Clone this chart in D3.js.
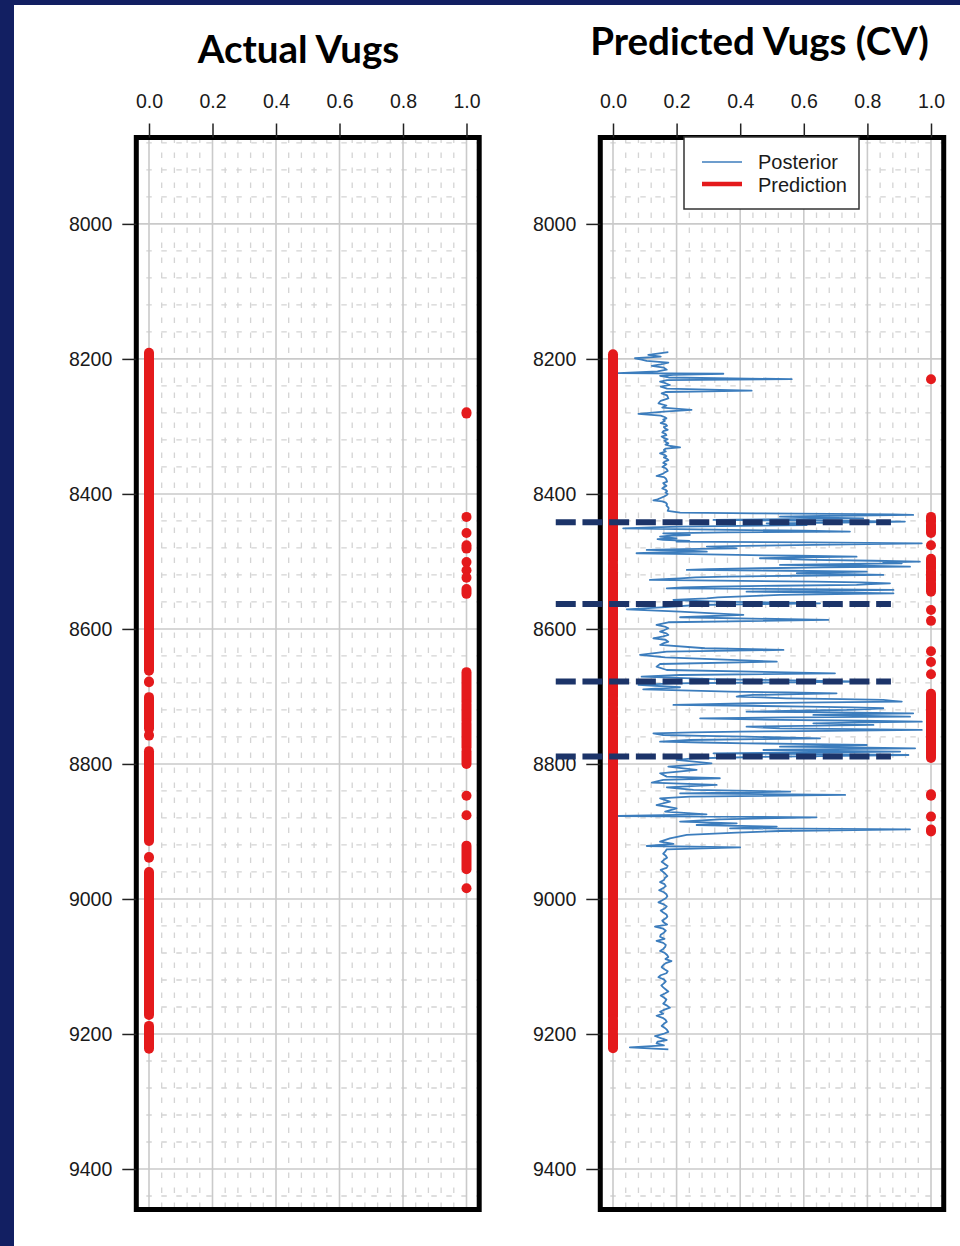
<!DOCTYPE html>
<html>
<head>
<meta charset="utf-8">
<script src="https://cdn.jsdelivr.net/npm/d3@7"></script>
<style>
  html, body { margin: 0; padding: 0; background: #fff; }
  svg { display: block; }
</style>
</head>
<body>
<svg id="chart" width="960" height="1246"></svg>
<script>
// ---- Data -------------------------------------------------------------
const xTickValues = [0, 0.2, 0.4, 0.6, 0.8, 1.0];
const depthTicks = [8000, 8200, 8400, 8600, 8800, 9000, 9200, 9400];
const depthDomain = [7872, 9460];

// Actual vug indicator: depth runs plotted at 0 and at 1
const actualZeroRuns = [[8191, 8662], [8678, 8679], [8701, 8748], [8757, 8758], [8781, 8914],
  [8938, 8939], [8960, 9172], [9188, 9222]];
const actualOneRuns = [[8279, 8281], [8434, 8434], [8458, 8458], [8476, 8481], [8501, 8501],
  [8513, 8513], [8524, 8524], [8541, 8548], [8664, 8707], [8711, 8736], [8740, 8776],
  [8781, 8800], [8847, 8847], [8876, 8876], [8921, 8956], [8984, 8984]];

// Cross-validated prediction: depth runs plotted at 0 and at 1
const predictedZeroRuns = [[8193, 8499], [8503, 8512], [8516, 8700], [8704, 8713], [8717, 8727],
  [8731, 9174], [9179, 9194], [9199, 9221]];
const predictedOneRuns = [[8230, 8230], [8434, 8441], [8445, 8458], [8476, 8476], [8496, 8510],
  [8514, 8528], [8532, 8545], [8572, 8572], [8588, 8588], [8633, 8633], [8649, 8649],
  [8667, 8667], [8696, 8791], [8845, 8847], [8878, 8878], [8897, 8900]];

// Zone boundaries marked across the prediction track
const zoneBoundaries = [8442, 8563, 8678, 8789];

// Posterior probability of vugs: [depth, probability]
const posterior = [
  [8190, 0.174], [8192, 0.140], [8194, 0.111], [8196.5, 0.150], [8199, 0.069], [8201, 0.090],
  [8203, 0.106], [8205.5, 0.174], [8208, 0.150], [8210.4, 0.122], [8213, 0.160], [8216, 0.169],
  [8218.5, 0.140], [8221, 0.017], [8222, 0.347], [8223.5, 0.190], [8225, 0.148], [8227.5, 0.175],
  [8230, 0.562], [8231.5, 0.170], [8233.6, 0.148], [8236, 0.165], [8238.6, 0.179], [8241, 0.150],
  [8244, 0.170], [8247, 0.436], [8249, 0.165], [8251, 0.153], [8254, 0.170], [8258.3, 0.174],
  [8262, 0.150], [8265.7, 0.143], [8269, 0.168], [8272, 0.155], [8275.6, 0.247], [8278, 0.160],
  [8281.5, 0.080], [8284, 0.150], [8286, 0.162], [8288, 0.168], [8290, 0.158], [8292, 0.163],
  [8295, 0.150], [8297, 0.166], [8299, 0.170], [8301, 0.160], [8303, 0.164], [8305, 0.172],
  [8307, 0.158], [8309, 0.155], [8311, 0.165], [8313, 0.168], [8315, 0.153], [8317, 0.160],
  [8319, 0.172], [8321, 0.162], [8323, 0.166], [8325, 0.174], [8327, 0.165], [8329, 0.180],
  [8331, 0.211], [8333, 0.165], [8335, 0.160], [8337, 0.166], [8340, 0.148], [8342, 0.162],
  [8344, 0.168], [8346, 0.160], [8348, 0.170], [8350, 0.174], [8352, 0.163], [8354, 0.158],
  [8356, 0.168], [8358, 0.162], [8360, 0.155], [8362, 0.166], [8364, 0.170], [8366, 0.172],
  [8368, 0.163], [8370, 0.158], [8373.4, 0.137], [8375, 0.160], [8377, 0.166], [8379, 0.168],
  [8381.8, 0.170], [8384, 0.158], [8386, 0.162], [8388, 0.168], [8390, 0.160], [8392, 0.155],
  [8394, 0.166], [8396, 0.170], [8398, 0.165], [8400, 0.172], [8402, 0.168], [8404, 0.160],
  [8406, 0.150], [8408, 0.140], [8409.5, 0.127], [8411, 0.155], [8413, 0.166], [8415, 0.170],
  [8417, 0.168], [8419, 0.172], [8421, 0.175], [8423, 0.174], [8425, 0.172], [8427.7, 0.211],
  [8428.7, 0.45], [8429.6, 0.682], [8430.4, 0.88], [8431.1, 0.944], [8432.3, 0.70],
  [8433.6, 0.525], [8434.8, 0.62], [8436.1, 0.787], [8437.3, 0.55], [8438.5, 0.316],
  [8439.8, 0.74], [8441, 0.918], [8442.2, 0.80], [8443.5, 0.483], [8444.8, 0.52],
  [8446, 0.609], [8447.2, 0.40], [8448.4, 0.211], [8449.6, 0.12], [8450.9, 0.032],
  [8452, 0.20], [8453.3, 0.368], [8454.5, 0.60], [8455.8, 0.745], [8457, 0.35],
  [8458.3, 0.158], [8459.5, 0.19], [8460.8, 0.242], [8462, 0.17], [8463.2, 0.148],
  [8464.5, 0.17], [8465.7, 0.200], [8467, 0.14], [8468.2, 0.158], [8469.4, 0.24],
  [8470.6, 0.200], [8471.8, 0.62], [8473.1, 0.971], [8474.3, 0.80], [8475.6, 0.630],
  [8476.8, 0.41], [8478, 0.295], [8479.3, 0.35], [8480.5, 0.389], [8481.8, 0.22],
  [8483, 0.106], [8484.2, 0.24], [8485.4, 0.295], [8486.6, 0.15], [8487.9, 0.074],
  [8489.1, 0.25], [8490.4, 0.389], [8491.6, 0.58], [8492.9, 0.766], [8494.1, 0.60],
  [8495.3, 0.462], [8496.5, 0.55], [8497.8, 0.630], [8499, 0.82], [8500.3, 0.965],
  [8501.5, 0.85], [8502.7, 0.908], [8504, 0.70], [8505.2, 0.525], [8506.4, 0.78],
  [8507.7, 0.934], [8508.9, 0.66], [8510.1, 0.462], [8511.3, 0.30], [8512.6, 0.232],
  [8513.8, 0.55], [8515.1, 0.798], [8516.3, 0.68], [8517.5, 0.578], [8518.8, 0.74],
  [8520, 0.850], [8521.2, 0.58], [8522.5, 0.357], [8523.7, 0.26], [8525, 0.211],
  [8526.2, 0.16], [8527.4, 0.116], [8528.7, 0.40], [8529.9, 0.630], [8531.1, 0.78],
  [8532.4, 0.871], [8533.6, 0.81], [8534.8, 0.766], [8536, 0.52], [8537.3, 0.316],
  [8538.5, 0.22], [8539.8, 0.169], [8541, 0.60], [8542.2, 0.882], [8543.5, 0.64],
  [8544.7, 0.420], [8546, 0.70], [8547.2, 0.882], [8548.4, 0.70], [8549.6, 0.525],
  [8550.9, 0.45], [8552.1, 0.389], [8553.3, 0.33], [8554.6, 0.295], [8555.8, 0.24],
  [8557.1, 0.190], [8558.3, 0.26], [8559.5, 0.336], [8560.8, 0.50], [8562, 0.651],
  [8563.2, 0.45], [8564.5, 0.263], [8566.9, 0.190], [8570.9, 0.043], [8574.3, 0.211],
  [8579.3, 0.410], [8582.7, 0.211], [8586.7, 0.677], [8590.1, 0.174], [8594.1, 0.137],
  [8597, 0.166], [8599, 0.174], [8602, 0.160], [8604, 0.148], [8606.5, 0.168], [8608.9, 0.174],
  [8611, 0.158], [8613.8, 0.127], [8616, 0.165], [8618.8, 0.174], [8621, 0.160], [8623.7, 0.148],
  [8628.6, 0.289], [8631.1, 0.536], [8633.6, 0.169], [8638.5, 0.085], [8642, 0.164],
  [8648.4, 0.515], [8651.9, 0.148], [8655.8, 0.137], [8660.8, 0.169], [8665.7, 0.698],
  [8668.2, 0.211], [8670.6, 0.090], [8674.6, 0.336], [8678, 0.798], [8680.5, 0.190],
  [8683, 0.080], [8686.4, 0.211], [8689.4, 0.095], [8692.9, 0.368], [8694.1, 0.55],
  [8695.3, 0.703], [8696.5, 0.58], [8697.8, 0.441], [8699, 0.40], [8700.3, 0.389],
  [8701.5, 0.47], [8702.7, 0.546], [8704, 0.72], [8705.2, 0.850], [8706.4, 0.88],
  [8707.7, 0.908], [8708.9, 0.66], [8710.1, 0.441], [8711.4, 0.30], [8712.6, 0.190],
  [8713.8, 0.42], [8715.1, 0.609], [8716.3, 0.75], [8717.5, 0.850], [8718.8, 0.80],
  [8720, 0.735], [8721.2, 0.58], [8722.5, 0.420], [8723.7, 0.70], [8725, 0.944],
  [8726.2, 0.78], [8727.4, 0.630], [8728.7, 0.80], [8729.9, 0.934], [8731.1, 0.55],
  [8732.4, 0.274], [8733.6, 0.40], [8734.8, 0.525], [8736, 0.78], [8737.3, 0.971],
  [8738.5, 0.80], [8739.8, 0.630], [8741, 0.72], [8742.2, 0.819], [8743.5, 0.60],
  [8744.7, 0.420], [8746, 0.47], [8747.2, 0.525], [8748.4, 0.76], [8749.6, 0.971],
  [8750.9, 0.68], [8752.1, 0.400], [8753.3, 0.25], [8754.6, 0.127], [8755.8, 0.14],
  [8757.1, 0.158], [8758.3, 0.28], [8759.5, 0.420], [8760.8, 0.53], [8762, 0.651],
  [8763.2, 0.45], [8764.5, 0.242], [8765.7, 0.19], [8766.9, 0.148], [8768.2, 0.28],
  [8769.4, 0.420], [8770.6, 0.62], [8771.9, 0.798], [8773.1, 0.66], [8774.3, 0.525],
  [8775.5, 0.75], [8776.8, 0.950], [8778, 0.70], [8779.3, 0.473], [8780.5, 0.70],
  [8781.7, 0.903], [8783, 0.60], [8784.2, 0.316], [8785.4, 0.62], [8786.7, 0.929],
  [8788, 0.72], [8789.1, 0.525], [8790.4, 0.38], [8791.6, 0.253], [8794.1, 0.200],
  [8799, 0.310], [8804, 0.174], [8808.9, 0.263], [8813.8, 0.148], [8818.8, 0.169],
  [8821.2, 0.336], [8823.7, 0.158], [8827.7, 0.122], [8831.1, 0.326], [8834.6, 0.169],
  [8838.5, 0.253], [8841, 0.557], [8843.5, 0.211], [8845.9, 0.730], [8848.4, 0.242],
  [8850.9, 0.148], [8855.8, 0.179], [8860.8, 0.137], [8865.7, 0.200], [8870.6, 0.164],
  [8874.6, 0.294], [8877.1, 0.017], [8879, 0.640], [8882, 0.336], [8885.4, 0.211],
  [8887.9, 0.389], [8890.4, 0.263], [8892.8, 0.515], [8895.3, 0.368], [8896.8, 0.934],
  [8899.3, 0.525], [8901.7, 0.389], [8905.2, 0.232], [8910.1, 0.179], [8915.1, 0.148],
  [8918.5, 0.190], [8921.5, 0.106], [8923.5, 0.400], [8926.4, 0.169],
  [8930, 0.164], [8933, 0.158], [8936, 0.166], [8939, 0.170], [8942, 0.160], [8945, 0.153],
  [8948, 0.162], [8951, 0.172], [8954, 0.168], [8957, 0.150], [8960, 0.158], [8963, 0.165],
  [8966, 0.171], [8969, 0.163], [8972, 0.160], [8975, 0.148], [8978, 0.162], [8981, 0.166],
  [8984, 0.158], [8987, 0.145], [8990, 0.160], [8993, 0.168], [8996, 0.171], [8999, 0.166],
  [9002, 0.155], [9005, 0.143], [9008, 0.160], [9011, 0.169], [9014, 0.163], [9017, 0.150],
  [9020, 0.158], [9023, 0.168], [9026, 0.171], [9029, 0.165], [9032, 0.155], [9035, 0.160],
  [9038, 0.170], [9041, 0.132], [9044, 0.158], [9047, 0.166], [9050, 0.160], [9053, 0.150],
  [9056, 0.148], [9059, 0.162], [9062, 0.137], [9065, 0.158], [9068, 0.166], [9071, 0.164],
  [9074, 0.158], [9077, 0.148], [9080, 0.163], [9083, 0.170], [9086, 0.174], [9089, 0.165],
  [9092, 0.184], [9095, 0.166], [9098, 0.158], [9101, 0.153], [9104, 0.162], [9107, 0.172],
  [9110, 0.168], [9113, 0.150], [9116, 0.143], [9119, 0.160], [9122, 0.166], [9125, 0.160],
  [9128, 0.152], [9131, 0.158], [9134, 0.166], [9137, 0.174], [9140, 0.163], [9143, 0.150],
  [9146, 0.160], [9149, 0.168], [9152, 0.164], [9155, 0.158], [9158, 0.170], [9161, 0.179],
  [9164, 0.162], [9167, 0.148], [9170, 0.158], [9173, 0.137], [9176, 0.156], [9179, 0.165],
  [9182, 0.169], [9185, 0.160], [9188, 0.153], [9191, 0.163], [9194, 0.170], [9197, 0.174],
  [9200, 0.158], [9203, 0.132], [9206, 0.150], [9209, 0.169], [9211.5, 0.140], [9214, 0.137],
  [9217, 0.160], [9219.8, 0.053], [9222.7, 0.174]
];

// ---- Layout -------------------------------------------------------------
const W = 960, H = 1246;
const FONT = "'Liberation Sans', Arial, sans-serif";
const RED = '#e41a1c';
const BLUE = '#3c7dbd';

const svg = d3.select('#chart');
svg.append('rect').attr('width', W).attr('height', H).attr('fill', '#121f62');
svg.append('rect').attr('x', 14).attr('y', 5).attr('width', W - 14).attr('height', H - 5).attr('fill', '#ffffff');

const y = d3.scaleLinear().domain(depthDomain).range([137.5, 1209.5]);

const panels = [
  { title: 'Actual Vugs', titleX: 298.5, titleY: 63, titleSize: 38.5, range: [149, 466.5],
    zeroRuns: actualZeroRuns, oneRuns: actualOneRuns },
  { title: 'Predicted Vugs (CV)', titleX: 759.5, titleY: 55, titleSize: 38.5, range: [613, 931],
    zeroRuns: predictedZeroRuns, oneRuns: predictedOneRuns, posterior: true }
];

panels.forEach(p => {
  const x = d3.scaleLinear().domain([0, 1]).range(p.range);
  const g = svg.append('g');
  const left = x(-0.04), right = x(1.04);
  const top = y(depthDomain[0]), bottom = y(depthDomain[1]);

  // title
  svg.append('text')
    .attr('x', p.titleX).attr('y', p.titleY)
    .attr('text-anchor', 'middle')
    .attr('font-family', "Lato, 'Open Sans', sans-serif")
    .attr('font-weight', 700)
    .attr('font-size', p.titleSize)
    .attr('fill', '#000')
    .text(p.title);

  // minor grid
  const minorX = d3.range(1, 26).map(i => +(-0.04 + i * 0.04).toFixed(2))
    .filter(v => Math.abs(v * 5 - Math.round(v * 5)) > 1e-6);
  const minorY = d3.range(7880, depthDomain[1], 40).filter(d => d % 200 !== 0);
  g.append('g').selectAll('line').data(minorX).join('line')
    .attr('x1', d => x(d)).attr('x2', d => x(d))
    .attr('y1', top).attr('y2', bottom)
    .attr('stroke', '#d4d4d4').attr('stroke-width', 1.3)
    .attr('stroke-dasharray', '5.5 9.5');
  g.append('g').selectAll('line').data(minorY).join('line')
    .attr('x1', left).attr('x2', right)
    .attr('y1', d => y(d)).attr('y2', d => y(d))
    .attr('stroke', '#d4d4d4').attr('stroke-width', 1.3)
    .attr('stroke-dasharray', '5.5 9.5')
    .attr('stroke-dashoffset', -10);

  // major grid
  g.append('g').selectAll('line').data(xTickValues).join('line')
    .attr('x1', d => x(d)).attr('x2', d => x(d))
    .attr('y1', top).attr('y2', bottom)
    .attr('stroke', '#cacaca').attr('stroke-width', 1.6);
  g.append('g').selectAll('line').data(depthTicks).join('line')
    .attr('x1', left).attr('x2', right)
    .attr('y1', d => y(d)).attr('y2', d => y(d))
    .attr('stroke', '#cacaca').attr('stroke-width', 1.6);

  // posterior curve
  if (p.posterior) {
    const line = d3.line().x(d => x(d[1])).y(d => y(d[0]));
    g.append('path').datum(posterior)
      .attr('d', line)
      .attr('fill', 'none')
      .attr('stroke', BLUE)
      .attr('stroke-width', 1.8)
      .attr('stroke-linejoin', 'round');
  }

  // indicator runs drawn as stacks of round markers
  const runs = [
    ...p.zeroRuns.map(r => ({ v: 0, a: r[0], b: r[1] })),
    ...p.oneRuns.map(r => ({ v: 1, a: r[0], b: r[1] }))
  ];
  g.append('g').selectAll('rect').data(runs).join('rect')
    .attr('x', d => x(d.v) - 5)
    .attr('width', 10)
    .attr('y', d => y(d.a) - 5)
    .attr('height', d => y(d.b) - y(d.a) + 10)
    .attr('rx', 5).attr('ry', 5)
    .attr('fill', RED);

  // frame
  g.append('rect')
    .attr('x', left).attr('y', top)
    .attr('width', right - left).attr('height', bottom - top)
    .attr('fill', 'none').attr('stroke', '#000').attr('stroke-width', 5);

  // axes
  const xAxis = d3.axisTop(x).tickValues(xTickValues).tickSize(14).tickPadding(15.5)
    .tickFormat(d3.format('.1f'));
  const yAxis = d3.axisLeft(y).tickValues(depthTicks).tickSize(14).tickPadding(10)
    .tickFormat(d3.format('d'));
  const ax = g.append('g').attr('transform', `translate(0,${top})`).call(xAxis);
  const ay = g.append('g').attr('transform', `translate(${left},0)`).call(yAxis);
  [ax, ay].forEach(a => {
    a.select('.domain').remove();
    a.selectAll('.tick line').attr('stroke', '#222').attr('stroke-width', 1.5);
    a.selectAll('.tick text').attr('font-family', FONT).attr('font-size', 19.5).attr('fill', '#1a1a1a');
  });
  ax.selectAll('.tick text').attr('dy', 0);

  // legend and zone markers on the prediction track
  if (p.posterior) {
    const lg = svg.append('g').attr('transform', 'translate(684,137)');
    lg.append('rect').attr('width', 175).attr('height', 72)
      .attr('fill', '#fff').attr('stroke', '#333').attr('stroke-width', 1.5);
    lg.append('line').attr('x1', 18).attr('x2', 58).attr('y1', 25).attr('y2', 25)
      .attr('stroke', BLUE).attr('stroke-width', 1.6);
    lg.append('line').attr('x1', 18).attr('x2', 58).attr('y1', 47).attr('y2', 47)
      .attr('stroke', RED).attr('stroke-width', 4.5);
    lg.append('text').attr('x', 74).attr('y', 32).attr('font-family', FONT).attr('font-size', 20)
      .attr('fill', '#1a1a1a').text('Posterior');
    lg.append('text').attr('x', 74).attr('y', 55).attr('font-family', FONT).attr('font-size', 20)
      .attr('fill', '#1a1a1a').text('Prediction');

    svg.append('g').selectAll('line').data(zoneBoundaries).join('line')
      .attr('x1', x(-0.18)).attr('x2', x(0.874))
      .attr('y1', d => y(d)).attr('y2', d => y(d))
      .attr('stroke', '#1c3469').attr('stroke-width', 6)
      .attr('stroke-dasharray', '20 6.7');
  }
});
</script>
</body>
</html>
